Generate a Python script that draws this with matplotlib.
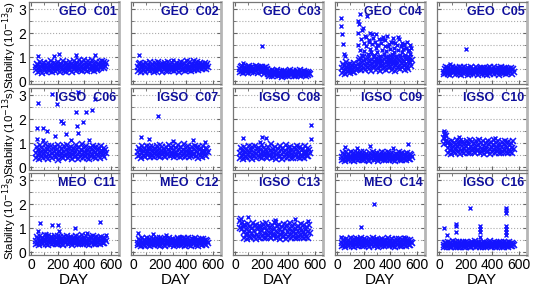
import numpy as np
import matplotlib
matplotlib.use("Agg")
import matplotlib.pyplot as plt
from matplotlib.ticker import MultipleLocator

plt.rcParams['font.family'] = ['Liberation Sans', 'DejaVu Sans']

# sampling days of the daily stability series
days = np.arange(35, 561, 5)

# stability values in units of 0.01 x 10^-13 s
c01 = [60, 45, 72, 38, 66, 55, 80, 42, 58, 70, 35, 63, 50, 77, 46, 68, 40, 59, 74, 52,
       44, 69, 57, 82, 37, 64, 49, 75, 56, 41, 71, 60, 47, 79, 53, 66, 39, 62, 73, 48,
       58, 84, 43, 67, 54, 76, 36, 61, 70, 50, 65, 45, 78, 57, 40, 72, 63, 49, 86, 55,
       68, 42, 74, 60, 51, 88, 46, 70, 58, 80, 44, 66, 53, 90, 48, 75, 62, 41, 83, 57,
       69, 50, 77, 45, 64, 87, 55, 72, 43, 68, 59, 81, 47, 73, 52, 66, 60, 78, 54, 85,
       62, 70, 56, 80, 64, 75]
c02 = [58, 44, 70, 50, 76, 40, 63, 55, 72, 47, 67, 38, 60, 74, 52, 45, 69, 57, 79, 42,
       65, 53, 71, 48, 61, 36, 75, 56, 43, 68, 59, 78, 46, 64, 51, 73, 39, 62, 70, 49,
       57, 77, 44, 66, 54, 80, 41, 63, 71, 50, 60, 46, 74, 55, 67, 42, 69, 58, 48, 76,
       53, 65, 40, 72, 57, 79, 45, 61, 68, 50, 75, 43, 64, 56, 82, 47, 70, 59, 52, 78,
       44, 66, 73, 55, 85, 48, 62, 71, 50, 80, 46, 67, 58, 76, 53, 64, 49, 72, 60, 68,
       55, 74, 50, 63, 70, 58]
c03 = [50, 38, 58, 44, 62, 35, 55, 47, 60, 40, 52, 45, 57, 33, 61, 48, 54, 39, 59, 43,
       50, 36, 56, 46, 62, 41, 53, 34, 58, 49, 44, 60, 37, 51, 57, 42, 55, 30, 48, 59,
       45, 52, 38,
       30, 22, 40, 26, 35, 45, 20, 33, 28, 42, 24, 37, 31, 47, 21, 29, 38, 25, 34, 43,
       27, 19, 36, 30, 44, 23, 32, 40, 26, 35, 21, 39, 28, 46, 24, 33, 30, 41, 22, 37,
       27, 34, 20, 43, 29, 36, 25, 31, 45, 23, 38, 28, 33, 41, 26, 35, 22, 40, 30, 27,
       36, 32, 29]
c04 = [55, 35, 70, 42, 62, 30, 78, 48, 58, 38, 66, 45, 73, 33, 60, 50, 68, 40, 75, 36,
       57, 47, 64, 52,
       70, 52, 88, 60, 95, 45, 78, 65, 100, 55, 82, 48, 92, 62, 74, 58, 97, 50, 85, 68,
       44, 90, 72, 57, 99, 63, 80, 47, 93, 66, 76, 54, 87, 42, 96, 70, 61, 84, 50, 91,
       73, 58, 98, 46, 81, 67, 94, 53, 77, 64, 89, 48, 100, 71, 59, 86, 43, 95, 68, 79,
       55, 92, 62, 83, 49, 97, 74, 57, 88, 65, 80, 45, 93, 70, 60, 96, 52, 85, 76, 98,
       63, 90]
c05 = [40, 28, 52, 34, 58, 45, 30, 55, 38, 48, 26, 50, 42, 60, 33, 46, 37, 56, 29, 44,
       53, 36, 49, 31, 57, 41, 27, 47, 54, 35, 43, 59, 32, 51, 39, 45, 25, 55, 40, 30,
       48, 57, 36, 44, 28, 52, 42, 33, 58, 38, 46, 27, 50, 41, 55, 34, 47, 29, 53, 43,
       37, 56, 31, 49, 40, 26, 54, 45, 35, 59, 30, 48, 42, 52, 36, 57, 28, 46, 39, 51,
       33, 55, 44, 27, 50, 38, 58, 41, 32, 47, 53, 35, 45, 29, 56, 40, 49, 34, 52, 43,
       37, 55, 30, 46, 50, 40]
c06 = [60, 40, 85, 50, 72, 35, 92, 55, 65, 45, 80, 38, 70, 58, 95, 42, 62, 75, 33, 88,
       52, 68, 46, 90, 57, 36, 78, 63, 48, 84, 41, 73, 55, 94, 31, 66, 50, 82, 59, 43,
       76, 37, 89, 61, 47, 71, 53, 93, 39, 64, 80, 45, 57, 86, 34, 69, 51, 77, 62, 41,
       91, 48, 74, 56, 35, 83, 60, 44, 70, 52, 95, 38, 65, 79, 47, 58, 87, 40, 72, 55,
       33, 81, 63, 46, 75, 50, 90, 42, 67, 59, 36, 84, 53, 71, 45, 78, 61, 38, 88, 56,
       66, 49, 80, 44, 73, 60]
c07 = [62, 45, 80, 52, 70, 40, 88, 57, 66, 48, 78, 43, 72, 59, 90, 50, 64, 75, 42, 85,
       55, 68, 47, 82, 60, 41, 77, 65, 51, 89, 46, 73, 58, 92, 44, 67, 53, 83, 61, 48,
       76, 42, 86, 63, 50, 71, 55, 94, 45, 66, 80, 49, 58, 87, 41, 70, 54, 79, 64, 47,
       91, 52, 74, 57, 43, 84, 62, 46, 72, 55, 95, 44, 68, 80, 50, 60, 88, 42, 75, 58,
       47, 83, 65, 49, 77, 53, 90, 45, 69, 61, 40, 85, 56, 73, 48, 79, 63, 44, 89, 58,
       67, 51, 81, 46, 74, 62]
c08 = [58, 40, 78, 48, 66, 35, 85, 52, 62, 44, 74, 38, 68, 55, 90, 42, 60, 72, 33, 82,
       50, 64, 45, 88, 56, 37, 76, 61, 47, 80, 41, 70, 54, 92, 36, 65, 49, 79, 58, 43,
       73, 38, 86, 60, 46, 69, 52, 95, 39, 63, 77, 44, 57, 84, 35, 67, 50, 75, 59, 41,
       89, 47, 71, 55, 34, 81, 62, 43, 68, 51, 93, 37, 64, 78, 46, 57, 85, 40, 70, 54,
       36, 80, 61, 45, 74, 49, 88, 42, 66, 58, 38, 83, 52, 70, 44, 76, 60, 39, 87, 55,
       65, 48, 79, 45, 72, 60]
c09 = [42, 30, 58, 35, 50, 26, 62, 38, 46, 33, 55, 28, 48, 40, 64, 31, 44, 53, 27, 60,
       37, 49, 32, 57, 41, 29, 54, 45, 34, 61, 30, 51, 39, 65, 28, 47, 36, 56, 43, 31,
       52, 27, 59, 44, 35, 50, 38, 63, 30, 46, 55, 33, 41, 58, 26, 48, 37, 53, 45, 32,
       62, 35, 51, 40, 28, 57, 43, 31, 49, 36, 64, 29, 46, 54, 34, 42, 60, 30, 50, 39,
       27, 56, 44, 33, 52, 37, 61, 31, 47, 41, 28, 58, 38, 50, 33, 55, 43, 29, 59, 40,
       48, 35, 54, 32, 50, 42]
c10 = [120, 95, 140, 110, 130, 100,
       80, 60, 105, 70, 92, 55, 110, 75, 85, 62, 100, 58, 95, 78, 112, 65, 82, 98, 56, 108,
       72, 88, 64, 106, 79, 57, 102, 84, 67, 110, 60, 96, 74, 115, 58, 86, 70, 104, 80, 63,
       99, 57, 108, 81, 66, 93, 73, 112, 59, 85, 100, 64, 77, 107, 55, 90, 71, 101, 82, 61,
       110, 68, 97, 75, 56, 104, 80, 63, 92, 72, 114, 58, 86, 99, 66, 78, 108, 60, 94, 74,
       57, 103, 83, 65, 96, 70, 111, 62, 88, 79, 58, 105, 73, 92, 64, 100, 81, 59, 109, 76]
c11 = [48, 34, 64, 40, 56, 30, 68, 42, 52, 36, 60, 32, 54, 45, 70, 35, 50, 58, 31, 66,
       41, 55, 37, 62, 47, 33, 59, 50, 38, 67, 34, 57, 43, 69, 32, 52, 40, 61, 49, 35,
       58, 31, 65, 46, 39, 54, 42, 68, 34, 51, 60, 37, 46, 63, 30, 53, 41, 57, 50, 36,
       67, 39, 56, 44, 32, 62, 48, 35, 55, 40, 70, 33, 51, 59, 38, 47, 66, 34, 54, 43,
       31, 61, 49, 37, 58, 42, 67, 35, 52, 45, 32, 63, 41, 56, 38, 60, 47, 33, 65, 44,
       53, 39, 59, 36, 55, 48]
c12 = [40, 29, 54, 33, 48, 25, 58, 36, 44, 31, 52, 27, 46, 38, 60, 30, 42, 50, 26, 56,
       35, 47, 32, 55, 39, 28, 51, 43, 34, 59, 30, 49, 37, 57, 27, 45, 36, 53, 41, 31,
       50, 26, 56, 40, 33, 47, 38, 60, 29, 44, 52, 32, 41, 55, 25, 48, 35, 51, 43, 30,
       58, 34, 49, 39, 28, 54, 42, 31, 46, 37, 59, 27, 44, 53, 33, 40, 57, 29, 50, 38,
       26, 55, 43, 32, 49, 36, 58, 30, 45, 41, 27, 52, 37, 48, 33, 56, 42, 28, 54, 39,
       47, 34, 51, 31, 48, 40]
c13 = [130, 100, 140, 95, 120, 110,
       85, 60, 112, 70, 98, 55, 118, 75, 90, 62, 105, 58, 100, 80, 120, 65, 88, 108, 56, 115,
       72, 95, 64, 110, 82, 57, 104, 90, 67, 118, 60, 100, 76, 122, 58, 92, 70, 110, 84, 63,
       106, 57, 115, 86, 66, 98, 73, 120, 59, 90, 108, 64, 80, 114, 55, 96, 71, 106, 86, 61,
       118, 68, 102, 77, 56, 112, 84, 63, 96, 72, 122, 58, 90, 104, 66, 82, 116, 60, 98, 76,
       57, 110, 88, 65, 100, 70, 118, 62, 92, 80, 58, 112, 75, 96, 64, 106, 85, 59, 115, 78]
c14 = [38, 26, 52, 30, 46, 22, 56, 33, 42, 28, 50, 24, 44, 36, 58, 27, 40, 48, 23, 54,
       32, 45, 29, 53, 37, 25, 49, 41, 31, 57, 27, 47, 35, 55, 24, 43, 33, 51, 39, 28,
       48, 23, 54, 38, 30, 45, 35, 58, 26, 42, 50, 29, 39, 53, 22, 46, 32, 49, 41, 27,
       56, 31, 47, 36, 25, 52, 40, 28, 44, 34, 57, 24, 42, 51, 30, 37, 55, 26, 48, 35,
       23, 53, 41, 29, 47, 33, 56, 27, 43, 38, 24, 50, 34, 46, 30, 54, 40, 25, 52, 36,
       45, 31, 49, 28, 44, 38]
c16 = [30, 22, 40, 25, 36, 20, 44, 27, 33, 23, 38, 21, 35, 29, 45, 24, 31, 37, 20, 42,
       26, 34, 23, 41, 30, 21, 39, 32, 25, 44, 22, 36, 28, 43, 20, 33, 27, 40, 31, 23,
       37, 21, 42, 32, 25, 35, 29, 45, 22, 33, 39, 24, 30, 41, 20, 35, 27, 38, 32, 23,
       44, 25, 36, 29, 21, 40, 31, 24, 34, 28, 45, 22, 32, 39, 26, 30, 43, 21, 36, 28,
       20, 40, 32, 25, 37, 27, 44, 23, 34, 30, 21, 41, 28, 36, 25, 39, 31, 22, 42, 29,
       35, 26, 38, 24, 33, 30]

# outliers (day, value in 0.01 x 10^-13 s)
c01_od = [50, 170, 210, 340, 480]
c01_ov = [105, 105, 115, 107, 107]
c02_od = [45, 300]
c02_ov = [110, 88]
c03_od = [200, 60]
c03_ov = [145, 75]
c04_od = [28, 33, 38, 44, 52, 60, 155, 160, 165, 170, 175, 182, 188, 195, 200, 206,
          212, 218, 225, 232, 238, 245, 250, 257, 263, 270, 276, 283, 290, 296, 303, 310,
          316, 322, 330, 337, 344, 350, 357, 363, 370, 377, 384, 390, 397, 404, 410, 417,
          424, 430, 437, 444, 450, 457, 464, 470, 477, 484, 490, 497, 504, 510, 517, 524,
          530, 537, 544, 550, 555, 160, 190, 215, 240, 265, 300, 340, 380, 420, 460, 500, 540]
c04_ov = [265, 230, 197, 155, 115, 105, 150, 200, 240, 280, 130, 175, 110, 220, 160, 125,
          190, 145, 270, 115, 170, 135, 200, 120, 155, 180, 110, 165, 140, 195, 120, 150,
          175, 105, 160, 130, 185, 115, 145, 170, 125, 190, 105, 155, 135, 165, 115, 180,
          140, 120, 160, 105, 150, 130, 175, 110, 145, 160, 120, 135, 155, 110, 140, 165,
          125, 130, 150, 115, 140, 250, 215, 185, 165, 195, 150, 175, 145, 165, 185, 150, 130]
c05_od = [200, 80]
c05_ov = [135, 70]
c06_od = [50, 155, 197, 355, 480, 457, 412, 337, 222, 240, 392, 342, 355, 47, 90,
          117, 262, 180, 47, 437, 300, 92]
c06_ov = [266, 307, 262, 313, 286, 239, 231, 228, 194, 185, 190, 170, 143, 164, 164,
          150, 137, 130, 118, 113, 113, 113]
c07_od = [190, 60, 120, 300, 450, 540]
c07_ov = [215, 125, 118, 110, 115, 105]
c08_od = [568, 568, 62, 200, 230, 185]
c08_ov = [174, 117, 122, 126, 123, 104]
c09_od = [60, 150, 250, 420, 530]
c09_ov = [85, 80, 90, 80, 95]
c10_od = [40, 45, 40, 150, 420]
c10_ov = [150, 135, 120, 125, 120]
c11_od = [50, 70, 160, 200, 210, 330, 420, 520, 110, 560]
c11_ov = [90, 120, 115, 115, 90, 100, 80, 125, 75, 70]
c12_od = [40, 150, 250, 350]
c12_ov = [80, 75, 70, 65]
c13_od = [100, 300, 450, 550]
c13_ov = [145, 135, 140, 130]
c14_od = [280, 180, 30, 500, 150]
c14_ov = [200, 105, 65, 65, 60]
c16_od = [232, 502, 502, 500, 502, 505, 502, 505, 37, 58, 127, 127, 127, 307, 310, 310, 307]
c16_ov = [183, 183, 176, 162, 110, 96, 83, 70, 100, 73, 117, 110, 83, 110, 96, 83, 63]

titles = ["GEO  C01", "GEO  C02", "GEO  C03", "GEO  C04", "GEO  C05",
          "IGSO  C06", "IGSO  C07", "IGSO  C08", "IGSO  C09", "IGSO  C10",
          "MEO  C11", "MEO  C12", "IGSO  C13", "MEO  C14", "IGSO  C16"]
bands = [c01, c02, c03, c04, c05, c06, c07, c08, c09, c10, c11, c12, c13, c14, c16]
out_days = [c01_od, c02_od, c03_od, c04_od, c05_od, c06_od, c07_od, c08_od,
            c09_od, c10_od, c11_od, c12_od, c13_od, c14_od, c16_od]
out_vals = [c01_ov, c02_ov, c03_ov, c04_ov, c05_ov, c06_ov, c07_ov, c08_ov,
            c09_ov, c10_ov, c11_ov, c12_ov, c13_ov, c14_ov, c16_ov]

W, H = 533, 288
fig = plt.figure(figsize=(W / 100, H / 100), dpi=100)

lefts = [29, 131, 233, 335, 437]
tops = [2, 88, 173]
aw, ah = 90, 82

for i in range(15):
    r, c = divmod(i, 5)
    ax = fig.add_axes([lefts[c] / W, 1 - (tops[r] + ah) / H, aw / W, ah / H])
    ax.plot(days, np.array(bands[i]) / 100, 'x', color='#1414ff', ms=3.8, mew=1.1)
    ax.plot(out_days[i], np.array(out_vals[i]) / 100, 'x', color='#1414ff', ms=3.5, mew=1.0)
    ax.set_xlim(-15, 660)
    ax.set_ylim(-0.12, 3.3)
    ax.xaxis.set_major_locator(MultipleLocator(200))
    ax.xaxis.set_minor_locator(MultipleLocator(100))
    ax.yaxis.set_major_locator(MultipleLocator(1))
    ax.yaxis.set_minor_locator(MultipleLocator(0.5))
    ax.grid(True, axis='y', which='both', linestyle=':', color='#aaaaaa', lw=0.8)
    ax.tick_params(which='both', direction='in', top=True, right=True,
                   color='#666666', labelsize=10, pad=2)
    ax.tick_params(which='major', length=3)
    ax.tick_params(which='minor', length=2)
    for s in ax.spines.values():
        s.set_color('#777777')
        s.set_linewidth(0.9)
    ax.spines['right'].set_color('#b5b5b5')
    ax.spines['right'].set_linewidth(2)
    ax.text(0.97, 0.95, titles[i], transform=ax.transAxes, ha='right', va='top',
            fontsize=9, fontweight='bold', color='#10109c')
    if c == 0:
        ax.set_ylabel("Stability (10$^{-13}$s)", fontsize=8.2)
        ax.yaxis.set_label_coords(-0.115, 0.47)
    else:
        ax.set_yticklabels([])
    if r == 2:
        ax.set_xlabel("DAY", fontsize=11, labelpad=1)
    else:
        ax.set_xticklabels([])

fig.savefig("out.png", dpi=100)
